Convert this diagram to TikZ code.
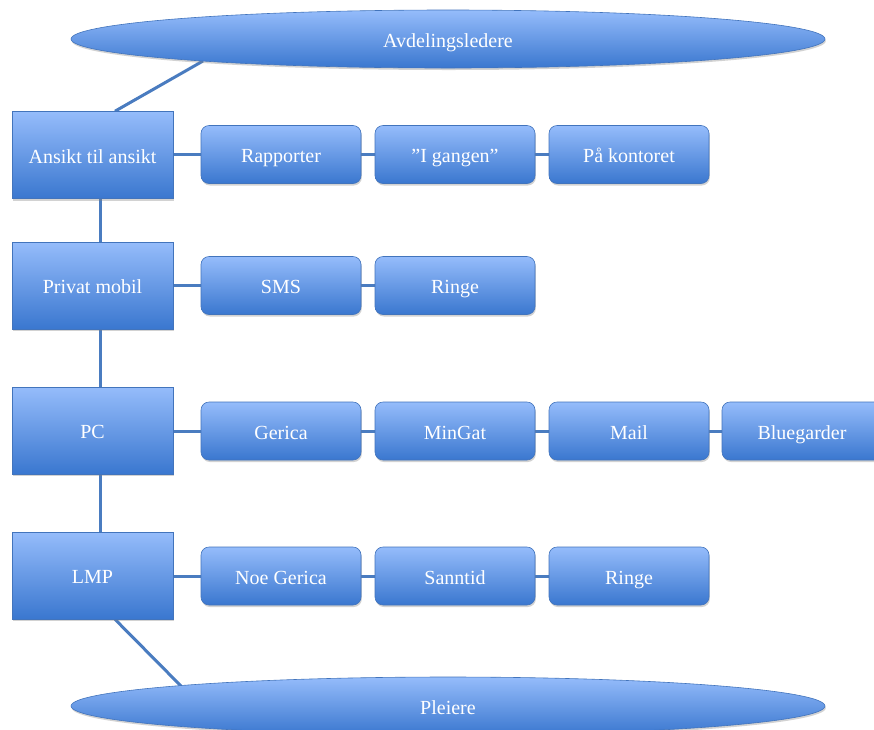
\documentclass[tikz,border=0pt]{standalone}
\usepackage{fontspec}
\setmainfont{Liberation Serif}
\usetikzlibrary{shapes.geometric,shadows,backgrounds}
\definecolor{gtop}{HTML}{95BCFB}
\definecolor{gbot}{HTML}{3A77CF}
\definecolor{edge}{HTML}{4274BC}
\definecolor{link}{HTML}{4A7CC0}
\tikzset{
  base/.style={top color=gtop, bottom color=gbot, draw=edge, line width=0.6pt,
    text=white, font=\fontsize{20}{24}\selectfont, align=center, inner sep=0pt,
    text height=20pt, text depth=4pt,
    drop shadow={opacity=0.35, shadow xshift=0.8pt, shadow yshift=-2pt}},
  leftbox/.style={base, rectangle, minimum width=161pt, minimum height=87pt},
  itembox/.style={base, rectangle, rounded corners=8pt, minimum width=160pt, minimum height=58pt},
  ovalbox/.style={base, ellipse, minimum width=754pt, minimum height=58pt},
  conn/.style={draw=link, line width=3pt}
}
\begin{document}
\begin{tikzpicture}[x=1pt,y=-1pt]
\clip (0,0) rectangle (874,729);
% ellipses
\node[ovalbox] (top) at (448,39) {Avdelingsledere};
\node[ovalbox] (bot) at (448,706) {Pleiere};
% left column
\node[leftbox] (ansikt) at (92.5,155) {Ansikt til ansikt};
\node[leftbox] (mobil) at (92.5,285.5) {Privat mobil};
\node[leftbox] (pc) at (92.5,430.5) {PC};
\node[leftbox] (lmp) at (92.5,575.5) {LMP};
% row 1
\node[itembox] (rapp) at (281,154.5) {Rapporter};
\node[itembox] (gang) at (455,154.5) {"I gangen"};
\node[itembox] (kont) at (629,154.5) {På kontoret};
% row 2
\node[itembox] (sms) at (281,285.5) {SMS};
\node[itembox] (ring1) at (455,285.5) {Ringe};
% row 3
\node[itembox] (gerica) at (281,431) {Gerica};
\node[itembox] (mingat) at (455,431) {MinGat};
\node[itembox] (mail) at (629,431) {Mail};
\node[itembox] (blue) at (802,431) {Bluegarder};
% row 4
\node[itembox] (noe) at (281,576) {Noe Gerica};
\node[itembox] (sann) at (455,576) {Sanntid};
\node[itembox] (ring2) at (629,576) {Ringe};
\begin{scope}[on background layer]
\fill[white] (0,0) rectangle (874,729);
\coordinate (topend) at (203,61);
\coordinate (botend) at (181,686);
\draw[conn] ([xshift=22.5pt]ansikt.north) -- (topend);
\draw[conn] ([xshift=22.5pt]lmp.south) -- (botend);
\draw[conn] ([xshift=7.5pt]ansikt.south) -- ([xshift=7.5pt]mobil.north);
\draw[conn] ([xshift=7.5pt]mobil.south) -- ([xshift=7.5pt]pc.north);
\draw[conn] ([xshift=7.5pt]pc.south) -- ([xshift=7.5pt]lmp.north);
\draw[conn] (ansikt.east |- rapp) -- (rapp.west);
\draw[conn] (rapp) -- (gang);
\draw[conn] (gang) -- (kont);
\draw[conn] (mobil.east |- sms) -- (sms.west);
\draw[conn] (sms) -- (ring1);
\draw[conn] (pc.east |- gerica) -- (gerica.west);
\draw[conn] (gerica) -- (mingat);
\draw[conn] (mingat) -- (mail);
\draw[conn] (mail) -- (blue);
\draw[conn] (lmp.east |- noe) -- (noe.west);
\draw[conn] (noe) -- (sann);
\draw[conn] (sann) -- (ring2);
\end{scope}
\end{tikzpicture}
\end{document}
